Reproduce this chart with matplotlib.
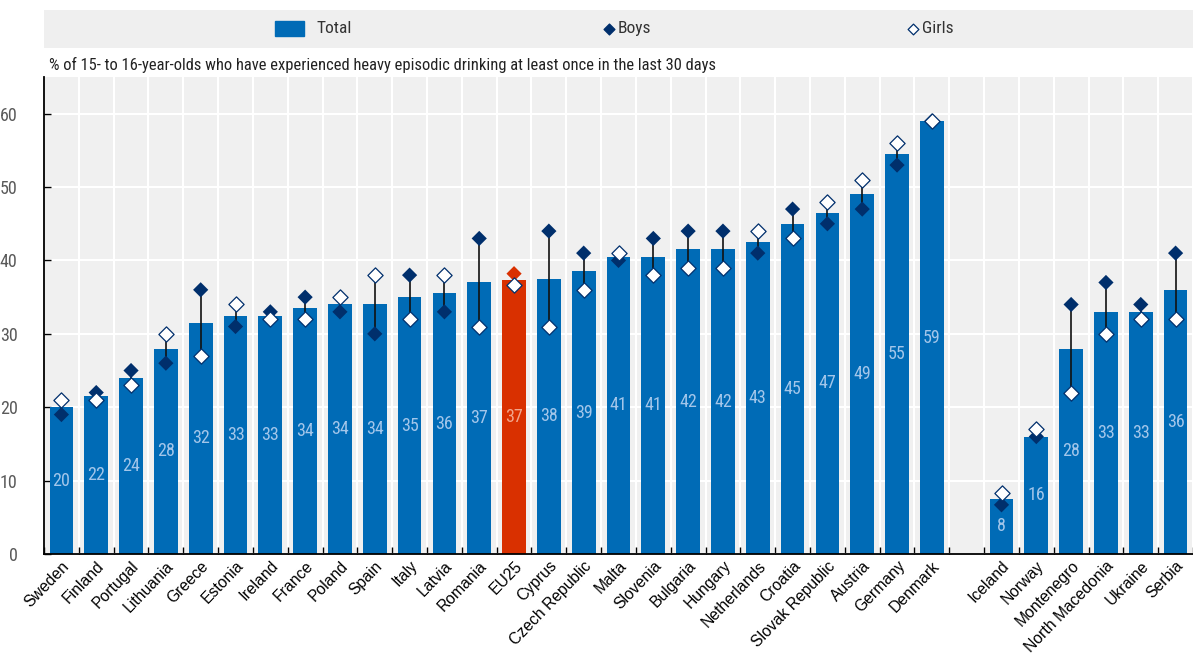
import os
import numpy as np
import matplotlib.pyplot as plt
from matplotlib import font_manager as fm
from matplotlib.patches import Rectangle

# EU countries (incl. EU25 average) and non-EU countries
countries_eu = ['Sweden', 'Finland', 'Portugal', 'Lithuania', 'Greece', 'Estonia',
                'Ireland', 'France', 'Poland', 'Spain', 'Italy', 'Latvia', 'Romania',
                'EU25', 'Cyprus', 'Czech Republic', 'Malta', 'Slovenia', 'Bulgaria',
                'Hungary', 'Netherlands', 'Croatia', 'Slovak Republic', 'Austria',
                'Germany', 'Denmark']
total_eu = [20, 21.5, 24, 28, 31.5, 32.5, 32.5, 33.5, 34, 34, 35, 35.5, 37,
            37.4, 37.5, 38.5, 40.5, 40.5, 41.5, 41.5, 42.5, 45, 46.5, 49, 54.5, 59]
boys_eu = [19, 22, 25, 26, 36, 31, 33, 35, 33, 30, 38, 33, 43,
           38.2, 44, 41, 40, 43, 44, 44, 41, 47, 45, 47, 53, 59]
girls_eu = [21, 21, 23, 30, 27, 34, 32, 32, 35, 38, 32, 38, 31,
            36.7, 31, 36, 41, 38, 39, 39, 44, 43, 48, 51, 56, 59]

countries_other = ['Iceland', 'Norway', 'Montenegro', 'North Macedonia', 'Ukraine', 'Serbia']
total_other = [7.5, 16, 28, 33, 33, 36]
boys_other = [6.7, 16, 34, 37, 34, 41]
girls_other = [8.3, 17, 22, 30, 32, 32]

BLUE = '#006BB6'
RED = '#D93000'
NAVY = '#002F6C'


def narrow_font():
    # look for any installed narrow / condensed regular face
    best, best_score = None, -1
    for f in fm.fontManager.ttflist:
        base = os.path.basename(f.fname).lower()
        txt = f.name.lower() + ' ' + base
        if f.style != 'normal' or 'bold' in base or 'italic' in base or 'oblique' in base:
            continue
        if not ('narrow' in txt or 'condensed' in txt or str(f.stretch) == 'condensed'):
            continue
        score = 1 if ('extra' in txt or 'ultra' in txt or 'semi' in txt) else 2
        if 'liberation' in txt or 'arial' in txt:
            score += 10
        elif 'roboto' in txt or 'open' in txt:
            score += 5
        elif 'noto' in txt:
            score += 4
        if 'light' in base or 'thin' in base or 'medium' in base or 'black' in base:
            score -= 3
        if score > best_score:
            best, best_score = f.fname, score
    if best is None:
        return fm.FontProperties(family=['Liberation Sans', 'DejaVu Sans'])
    return fm.FontProperties(fname=best)


def regular_font():
    for f in fm.fontManager.ttflist:
        if os.path.basename(f.fname).lower() in ('liberationsans-regular.ttf', 'arial.ttf'):
            return fm.FontProperties(fname=f.fname)
    return fm.FontProperties(family=['DejaVu Sans'])


NARROW = narrow_font()
REGULAR = regular_font()


def nf(size, base=NARROW):
    p = base.copy()
    p.set_size(size)
    return p


labels = countries_eu + countries_other
total = np.array(total_eu + total_other)
boys = np.array(boys_eu + boys_other)
girls = np.array(girls_eu + girls_other)
x = np.r_[np.arange(len(countries_eu)), np.arange(len(countries_other)) + len(countries_eu) + 1]
colors = [RED if c == 'EU25' else BLUE for c in labels]

fig = plt.figure(figsize=(11.93, 6.53), dpi=100)
ax = fig.add_axes([44 / 1193, 99 / 653, 1 - 44 / 1193, 477 / 653])
ax.set_facecolor('#F0F0F0')

ax.bar(x, total, width=0.68, color=colors, zorder=2)
ax.vlines(x, np.minimum(boys, girls), np.maximum(boys, girls), color='#111111', lw=1.2, zorder=3)
boy_cols = [RED if c == 'EU25' else NAVY for c in labels]
ax.scatter(x, boys, marker='D', s=60, c=boy_cols, zorder=4, linewidths=0)
ax.scatter(x, girls, marker='D', s=60, facecolor='white', edgecolor=NAVY, linewidths=0.9, zorder=5)

for xi, v, c in zip(x, total, labels):
    col = '#F2A68C' if c == 'EU25' else '#A3C6EA'
    ax.text(xi, v / 2, str(int(np.floor(v + 0.5))), ha='center', va='center',
            color=col, fontproperties=nf(13), zorder=6)

ax.set_xlim(-0.46, 32.28)
ax.set_ylim(0, 65)
ax.set_yticks(range(0, 61, 10))
ax.set_yticklabels([str(v) for v in range(0, 61, 10)], fontproperties=nf(13), color='#5a5a5a')
ax.set_xticks(x)
ax.set_xticklabels(labels, rotation=46, ha='right', rotation_mode='anchor',
                   fontproperties=nf(11.3, REGULAR))
ax.set_xticks(np.arange(-0.5, x.max() + 1, 1), minor=True)
ax.tick_params(axis='x', which='major', length=0, pad=3)
ax.tick_params(axis='x', which='minor', length=5, direction='in', width=1, color='black')
ax.tick_params(axis='y', length=5, direction='in', width=1, pad=19)

ax.grid(axis='y', color='white', lw=1.5, zorder=0)
ax.grid(axis='x', which='minor', color='white', lw=1.5, zorder=0)
ax.set_axisbelow(True)
for s in ['top', 'right']:
    ax.spines[s].set_visible(False)
for s in ['left', 'bottom']:
    ax.spines[s].set_linewidth(1.3)
    ax.spines[s].set_zorder(7)

# subtitle
fig.text(49 / 1193, 1 - 65 / 653, '% of 15- to 16-year-olds who have experienced heavy episodic '
         'drinking at least once in the last 30 days', fontproperties=nf(11.9),
         color='#222222', va='center')

# legend box
lax = fig.add_axes([44 / 1193, 1 - 47.5 / 653, 1 - 44 / 1193, 37.5 / 653])
lax.set_xlim(44, 1193)
lax.set_ylim(0, 1)
lax.axis('off')
lax.add_patch(Rectangle((44, 0), 1149, 1, color='#EFEFEF', zorder=0))
lax.add_patch(Rectangle((275, 0.3), 29, 0.42, color=BLUE, zorder=1))
lax.text(316, 0.5, 'Total', fontproperties=nf(12.5), va='center', color='#333333')
lax.scatter([609], [0.5], marker='D', s=30, color=NAVY, zorder=2)
lax.text(618, 0.5, 'Boys', fontproperties=nf(12.5), va='center', color='#333333')
lax.scatter([913], [0.5], marker='D', s=30, facecolor='white', edgecolor=NAVY, linewidths=0.9, zorder=2)
lax.text(922, 0.5, 'Girls', fontproperties=nf(12.5), va='center', color='#333333')

fig.savefig('out.png', dpi=100)
